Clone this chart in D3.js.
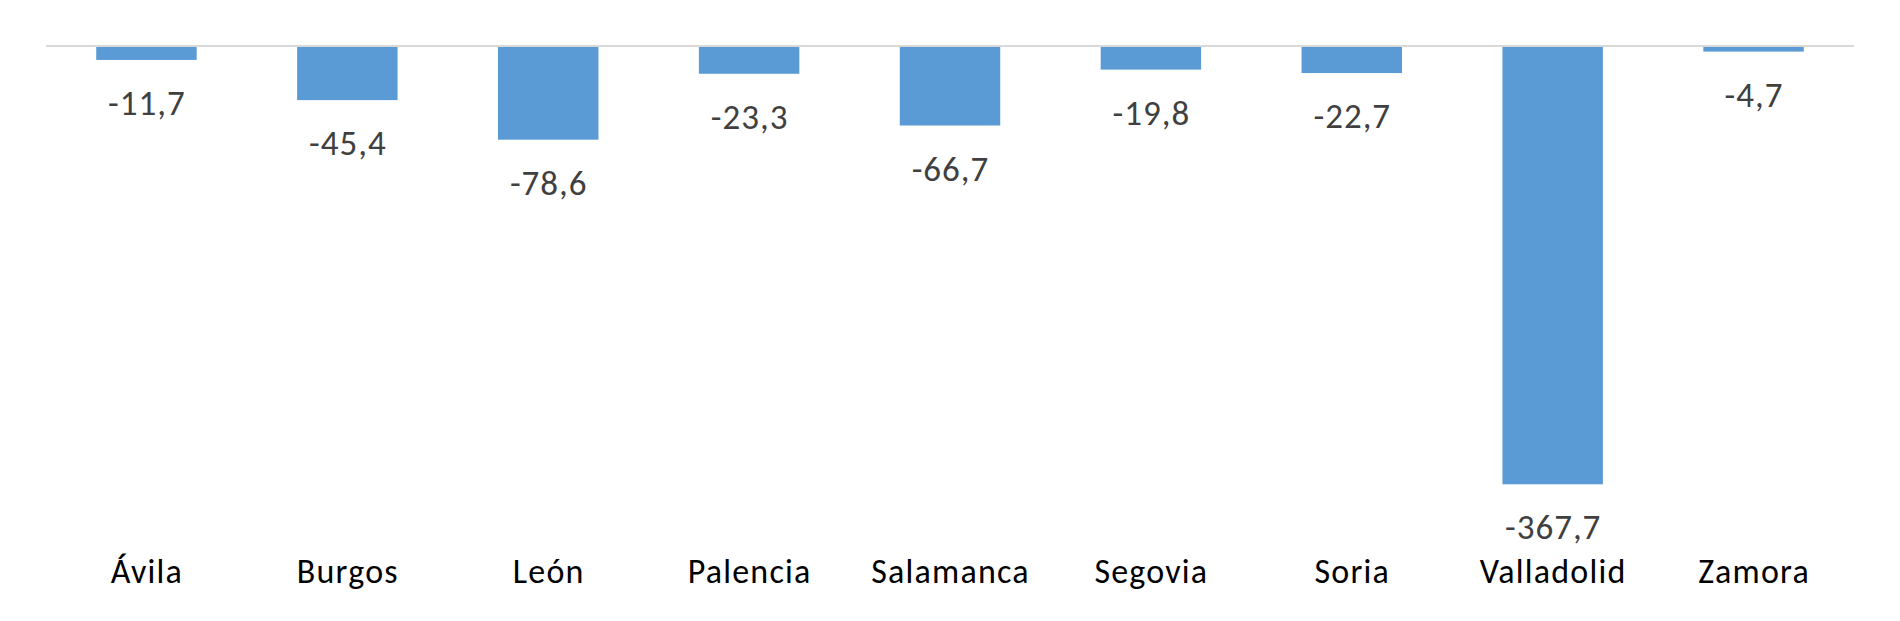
<!DOCTYPE html>
<html><head><meta charset="utf-8">
<script src="https://cdn.jsdelivr.net/npm/d3@7"></script>
<style>html,body{margin:0;padding:0;background:#fff;}</style>
</head><body><svg id="chart"></svg>
<script>
const categories = ["Ávila","Burgos","León","Palencia","Salamanca","Segovia","Soria","Valladolid","Zamora"];
const values = [-11.7,-45.4,-78.6,-23.3,-66.7,-19.8,-22.7,-367.7,-4.7];

const W = 1900, H = 621;
const svg = d3.select("#chart").attr("width", W).attr("height", H);
const font = "Calibri, Carlito, Lato, sans-serif";

const x = d3.scaleBand().domain(categories).range([46, 1854]).paddingInner(0.5).paddingOuter(0.25);
const y = d3.scaleLinear().domain([-400, 0]).range([522.8, 46]);

svg.selectAll("rect.bar").data(values).join("rect")
  .attr("class","bar")
  .attr("x",(d,i)=>x(categories[i]))
  .attr("width",x.bandwidth())
  .attr("y",y(0))
  .attr("height",d=>y(d)-y(0))
  .attr("fill","#5b9bd5");

svg.append("line").attr("x1",46).attr("x2",1854).attr("y1",y(0)).attr("y2",y(0))
  .attr("stroke","#d9d9d9").attr("stroke-width",2);

const fmt = d => d3.format(".1f")(d).replace("−","-").replace(".",",");
svg.selectAll("text.val").data(values).join("text")
  .attr("class","val")
  .attr("x",(d,i)=>x(categories[i])+x.bandwidth()/2+0.5)
  .attr("y",d=>y(d)+55)
  .attr("text-anchor","middle")
  .attr("font-family",font).attr("font-size",35).attr("letter-spacing",1).attr("fill","#404040")
  .text(fmt);

svg.selectAll("text.cat").data(categories).join("text")
  .attr("class","cat")
  .attr("x",d=>x(d)+x.bandwidth()/2+0.5)
  .attr("y",583)
  .attr("text-anchor","middle")
  .attr("font-family",font).attr("font-size",34).attr("letter-spacing",1.2).attr("fill","#000")
  .text(d=>d);
</script></body></html>
